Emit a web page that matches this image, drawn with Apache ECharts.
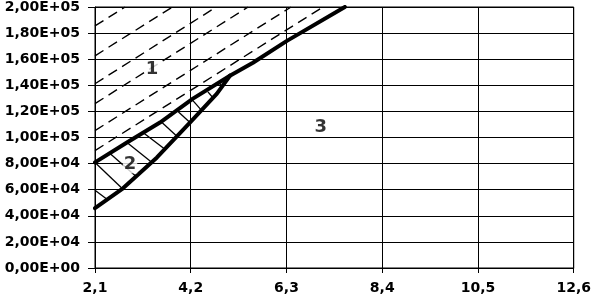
<!DOCTYPE html>
<html><head><meta charset="utf-8">
<script src="https://cdn.jsdelivr.net/npm/echarts@6/dist/echarts.min.js"></script>
<style>html,body{margin:0;padding:0;background:#fff}#c{width:594px;height:295px}</style>
</head><body><div id="c"></div>
<script>
// X axis ticks and Y axis ticks
var xTicks = [2.1, 4.2, 6.3, 8.4, 10.5, 12.6];
var yTicks = [0, 20000, 40000, 60000, 80000, 100000, 120000, 140000, 160000, 180000, 200000];

// Upper boundary (between region 1 and regions 2/3)
var upperLine = [[2.1, 80900], [2.801, 96180], [3.525, 111450], [4.248, 129770], [5.059, 147330],
                 [5.564, 157250], [6.309, 174050], [7.58, 200000]];
// Lower boundary (between region 2 and region 3)
var lowerLine = [[2.1, 45800], [2.714, 61070], [3.459, 84730], [4.182, 111450], [4.774, 133590], [5.059, 147330]];

// Dashed hatch lines of region 1 (start, end)
var dashLines = [
  [[2.1, 90000], [7.10, 200000]],
  [[2.1, 105300], [6.40, 200000]],
  [[2.1, 126000], [5.46, 200000]],
  [[2.1, 141200], [4.76, 200000]],
  [[2.1, 162600], [3.80, 200000]],
  [[2.1, 185500], [2.76, 200000]]
];

// Solid hatch lines of region 2 (start, end)
var hatchLines = [
  [[2.1, 59550], [2.363, 52670]],
  [[2.1, 80910], [2.692, 61070]],
  [[2.429, 87780], [3.021, 69460]],
  [[2.801, 96180], [3.349, 80910]],
  [[3.152, 103820], [3.656, 90360]],
  [[3.569, 111450], [3.920, 100260]],
  [[3.920, 119850], [4.183, 111450]],
  [[4.248, 128250], [4.423, 121380]],
  [[4.577, 135010], [4.686, 130430]],
  [[4.840, 141120], [4.884, 138830]]
];

// Region labels
var regionNames = ['1', '2', '3'];
var regionPos = [[3.35, 151900], [2.867, 79390], [7.054, 107630]];

function fmtY(v) {
  var p = v.toExponential(2).split('e');
  var e = parseInt(p[1], 10);
  var es = (e < 0 ? '-' : '+') + (Math.abs(e) < 10 ? '0' : '') + Math.abs(e);
  return p[0].replace('.', ',') + 'E' + es;
}
function fmtX(v) { return v.toFixed(1).replace('.', ','); }

var series = [];
dashLines.forEach(function (seg) {
  series.push({ type: 'line', data: seg, symbol: 'none', silent: true, z: 2,
    lineStyle: { color: '#000', width: 1.4, type: [10, 6] } });
});
hatchLines.forEach(function (seg) {
  series.push({ type: 'line', data: seg, symbol: 'none', silent: true, z: 2,
    lineStyle: { color: '#000', width: 1.3 } });
});
series.push({ type: 'line', data: upperLine, symbol: 'none', z: 3,
  lineStyle: { color: '#000', width: 4, join: 'round', cap: 'round' } });
series.push({ type: 'line', data: lowerLine, symbol: 'none', z: 3,
  lineStyle: { color: '#000', width: 4, join: 'round', cap: 'round' } });
series.push({ type: 'scatter', symbolSize: 0, z: 4,
  data: regionPos.map(function (p, i) { return { name: regionNames[i], value: p }; }),
  label: { show: true, position: 'inside', formatter: '{b}', color: '#000',
    fontFamily: 'DejaVu Sans', fontWeight: 'bold', fontSize: 18, backgroundColor: '#fff', padding: [0, 1] } });

var chart = echarts.init(document.getElementById('c'), null, { renderer: 'canvas' });
chart.setOption({
  animation: false,
  backgroundColor: '#fff',
  grid: { left: 95, right: 20, top: 6, bottom: 27, show: true, borderColor: '#000', borderWidth: 1 },
  xAxis: {
    type: 'value', min: xTicks[0], max: xTicks[xTicks.length - 1], interval: 2.1,
    axisLine: { show: true, lineStyle: { color: '#000', width: 1 } },
    axisTick: { show: true, length: 5, lineStyle: { color: '#000' } },
    splitLine: { show: true, lineStyle: { color: '#000', width: 1 } },
    axisLabel: { formatter: fmtX, color: '#000', fontFamily: 'DejaVu Sans', fontWeight: 'bold', fontSize: 14, margin: 13 }
  },
  yAxis: {
    type: 'value', min: yTicks[0], max: yTicks[yTicks.length - 1], interval: 20000,
    axisLine: { show: true, lineStyle: { color: '#000', width: 1 } },
    axisTick: { show: true, length: 7, lineStyle: { color: '#000' } },
    splitLine: { show: true, lineStyle: { color: '#000', width: 1 } },
    axisLabel: { formatter: fmtY, color: '#000', fontFamily: 'DejaVu Sans', fontWeight: 'bold', fontSize: 14, margin: 15 }
  },
  series: series
});
</script>
</body></html>
